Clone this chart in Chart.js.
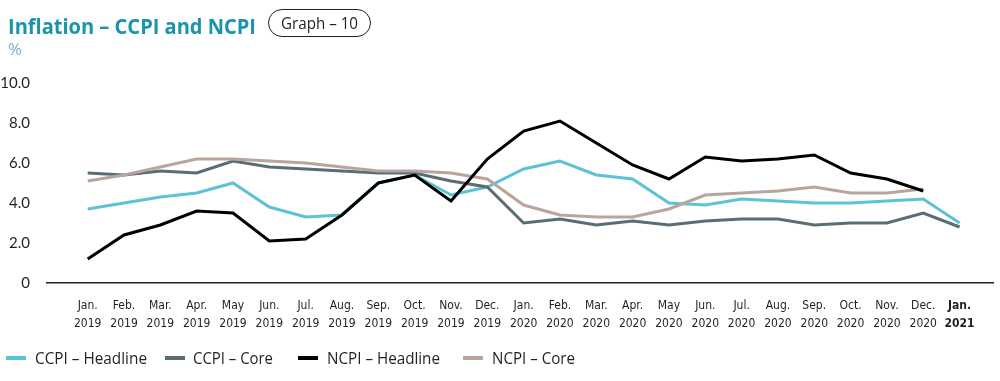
<!DOCTYPE html>
<html>
<head>
<meta charset="utf-8">
<script src="https://cdn.jsdelivr.net/npm/chart.js@4"></script>
<style>
  html,body{margin:0;padding:0;background:#fff;}
  #wrap{position:relative;width:1000px;height:381px;overflow:hidden;font-family:"Open Sans",Lato,sans-serif;color:#231f20;}
  #cv{position:absolute;left:0;top:0;}
  .fit{position:absolute;white-space:nowrap;transform-origin:left center;display:inline-block;}
  #title{left:8px;top:10px;font-size:22px;font-weight:700;color:#1a93ad;line-height:30px;}
  #pill{position:absolute;left:268px;top:9px;width:103px;height:28px;border:1px solid #231f20;border-radius:15px;box-sizing:border-box;}
  #pilltxt{left:281px;top:9px;font-size:16px;line-height:28px;}
  #pct{left:8px;top:38px;font-size:17px;line-height:22px;color:#6fb6c6;}
  .lg{position:absolute;top:356px;width:20px;height:4px;}
  .lt{top:347px;font-size:16px;line-height:22px;}
</style>
</head>
<body>
<div id="wrap">
  <canvas id="cv" width="1000" height="381"></canvas>
  <span class="fit" id="title" data-w="248">Inflation – CCPI and NCPI</span>
  <div id="pill"></div>
  <span class="fit" id="pilltxt" data-w="77">Graph – 10</span>
  <span class="fit" id="pct" data-w="14">%</span>
  <div id="legend"></div>
</div>
<script>
const months = ["Jan.","Feb.","Mar.","Apr.","May","Jun.","Jul.","Aug.","Sep.","Oct.","Nov.","Dec.",
                "Jan.","Feb.","Mar.","Apr.","May","Jun.","Jul.","Aug.","Sep.","Oct.","Nov.","Dec.","Jan."];
const years = ["2019","2019","2019","2019","2019","2019","2019","2019","2019","2019","2019","2019",
               "2020","2020","2020","2020","2020","2020","2020","2020","2020","2020","2020","2020","2021"];
const yTicks = [0, 2, 4, 6, 8, 10];

const ccpiHeadline = [3.7,4.0,4.3,4.5,5.0,3.8,3.3,3.4,5.0,5.4,4.4,4.8,5.7,6.1,5.4,5.2,4.0,3.9,4.2,4.1,4.0,4.0,4.1,4.2,3.0];
const ccpiCore     = [5.5,5.4,5.6,5.5,6.1,5.8,5.7,5.6,5.5,5.5,5.1,4.8,3.0,3.2,2.9,3.1,2.9,3.1,3.2,3.2,2.9,3.0,3.0,3.5,2.8];
const ncpiHeadline = [1.2,2.4,2.9,3.6,3.5,2.1,2.2,3.4,5.0,5.4,4.1,6.2,7.6,8.1,7.0,5.9,5.2,6.3,6.1,6.2,6.4,5.5,5.2,4.6,null];
const ncpiCore     = [5.1,5.4,5.8,6.2,6.2,6.1,6.0,5.8,5.6,5.6,5.5,5.2,3.9,3.4,3.3,3.3,3.7,4.4,4.5,4.6,4.8,4.5,4.5,4.7,null];

const seriesNames = ["CCPI – Headline","CCPI – Core","NCPI – Headline","NCPI – Core"];
const seriesColors = ["#5cc3d4","#5a6d76","#000000","#b9a59d"];
const seriesData = [ccpiHeadline, ccpiCore, ncpiHeadline, ncpiCore];

const toPts = arr => arr.map((v,i) => ({x:i, y:v}));

const datasets = seriesNames.map((n,k) => ({
  label: n,
  data: toPts(seriesData[k]),
  borderColor: seriesColors[k],
  backgroundColor: seriesColors[k],
  borderWidth: 3,
  pointRadius: 0,
  tension: 0,
  spanGaps: false,
  order: [3,2,0,1][k]
}));

const tickFont = "'Liberation Sans Narrow','DejaVu Sans Condensed',Lato,sans-serif";

new Chart(document.getElementById('cv'), {
  type: 'line',
  data: { datasets },
  options: {
    responsive: false,
    animation: false,
    devicePixelRatio: 1,
    layout: { padding: { top: 83, left: 0, right: 7, bottom: 0 } },
    plugins: { legend: { display: false }, tooltip: { enabled: false } },
    scales: {
      x: {
        type: 'linear',
        min: -1.12,
        max: 24.92,
        grid: { display: false },
        border: { display: true, color: '#231f20', width: 1.5 },
        afterBuildTicks: s => { s.ticks = months.map((m,i) => ({ value: i })); },
        afterFit: s => { s.height = 98; },
        ticks: {
          autoSkip: false,
          maxRotation: 0,
          minRotation: 0,
          padding: 6,
          color: '#231f20',
          font: ctx => ({ family: tickFont, size: 12, lineHeight: 1.5, weight: (ctx.index === 24 ? 'bold' : 'normal') }),
          callback: v => [months[v], years[v]]
        }
      },
      y: {
        min: 0,
        max: 10,
        grid: { display: false },
        border: { display: false },
        afterBuildTicks: s => { s.ticks = yTicks.map(v => ({ value: v })); },
        afterFit: s => { s.width = 47; },
        ticks: {
          padding: 9,
          color: '#231f20',
          font: { family: "Lato, 'Open Sans', sans-serif", size: 15 },
          callback: v => (v === 0 ? '0' : v.toFixed(1))
        }
      }
    }
  }
});

// HTML legend
const legendPos = [
  { m: 6,   t: 35,  w: 112 },
  { m: 165, t: 193, w: 80 },
  { m: 298, t: 327, w: 113 },
  { m: 463, t: 492, w: 83 }
];
const lg = document.getElementById('legend');
seriesNames.forEach((n,k) => {
  const mk = document.createElement('div');
  mk.className = 'lg';
  mk.style.left = legendPos[k].m + 'px';
  mk.style.background = seriesColors[k];
  lg.appendChild(mk);
  const t = document.createElement('span');
  t.className = 'fit lt';
  t.style.left = legendPos[k].t + 'px';
  t.dataset.w = legendPos[k].w;
  t.textContent = n;
  lg.appendChild(t);
});

document.querySelectorAll('.fit').forEach(el => {
  const target = parseFloat(el.dataset.w);
  const w = el.getBoundingClientRect().width;
  if (target && w) el.style.transform = 'scaleX(' + (target / w) + ')';
});
</script>
</body>
</html>
